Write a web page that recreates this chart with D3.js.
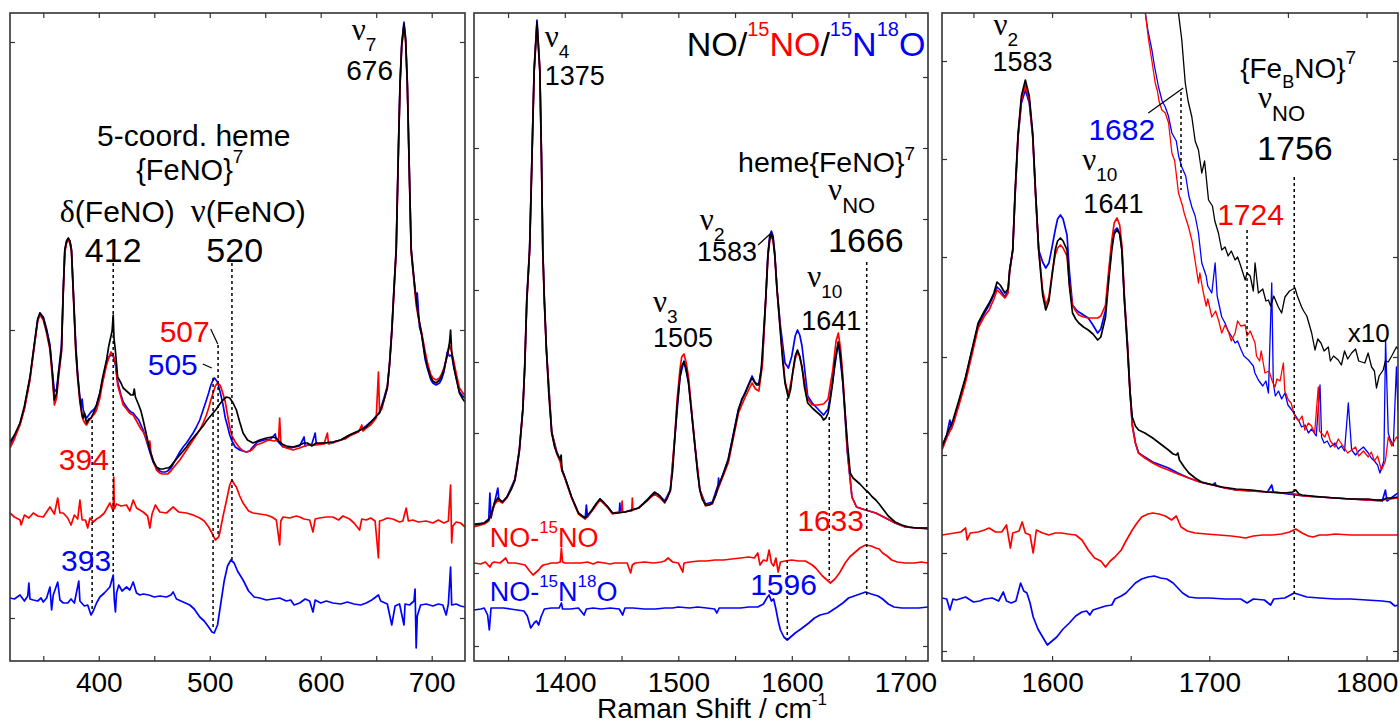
<!DOCTYPE html>
<html><head><meta charset="utf-8">
<script src="https://cdn.jsdelivr.net/npm/d3@7"></script>
<style>body{margin:0;background:#fff} text{font-family:"Liberation Sans",Arial,sans-serif}</style>
</head><body><svg id="c" width="1400" height="724"></svg>
<script>
// ---------- DATA (Raman shift cm-1, intensity a.u.) ----------
const p1XTicks = [400,500,600,700];
const p2XTicks = [1400,1500,1600,1700];
const p3XTicks = [1600,1700,1800];
const p1YTicks = [43,331,619];
const p2YTicks = [15,88,158,228,299,371,442,513,584];
const p3YTicks = [10,108,206,304,404,502,600];

const p1Black = [[320,219],[324,226],[329,238],[333,255],[338,284],[342,318],[345,342],[347,348],[350,343],[353,330],[356,314],[358,290],[360,261],[362,268],[364,290],[366.4,311],[368,370],[369.4,411],[371,420],[372.5,423],[374,420],[375.4,411],[377,370],[379.3,311],[381,285],[383,261],[385,246],[386,243],[387,248],[389,238],[391,242],[393,243],[396,250],[398,256],[401,268],[403,281],[405,291],[407,301],[409,315],[411,325],[412,330],[413,346],[413.7,323],[415,310],[417,284],[420,278],[422,273],[425,270],[427,268],[429,266],[431,266],[432,272],[433,264],[436,256],[438,250],[440,241],[443,226],[446,211],[449,200],[452,194],[455,192],[458,192],[461,193],[463,193],[465,195],[467,198],[470,202],[473,206],[476,210],[479,214],[482,219],[485,223],[488,227],[491,231],[494,235],[497,240],[500,244],[503,248],[506,252],[509,257],[512,261],[515,264],[518,263],[521,258],[524,251],[527,239],[530,228],[534,221],[539,218],[545,221],[551,223],[556,224],[560,223],[563,219],[565,217],[569,215],[575,214],[581,216],[585,218],[588,218],[592,215],[596,218],[603,218],[611,219],[618,221],[626,226],[634,230],[641,234],[647,241],[653,248],[657,261],[660,273],[662,296],[664,328],[666,371],[668,411],[670,511],[671.5,578],[673,616],[675,637],[676.5,621],[678,578],[680,481],[681.5,411],[683,393],[686,361],[688,345],[691,326],[694,305],[696,295],[699,284],[701,280],[704,278],[707,281],[709,285],[711,291],[714,306],[716,318],[717,331],[718,309],[720,294],[722,283],[725,268],[728,262],[730,259]];
const p1Red = [[320,213],[324,222],[329,236],[333,252],[338,281],[342,315],[345,340],[347,346],[350,341],[353,328],[356,311],[358,286],[360,256],[362,263],[364,286],[366.4,309],[368,368],[369.4,409],[371,418],[372.5,421],[374,418],[375.4,409],[377,368],[379.3,309],[381,282],[383,259],[385,244],[386,241],[388,237],[389,236],[391,240],[393,243],[396,247],[398,251],[401,263],[403,276],[405,286],[407,296],[409,303],[411,309],[413,306],[415,298],[417,276],[420,264],[422,256],[425,252],[427,249],[429,247],[431,246],[433,242],[436,236],[438,232],[440,229],[443,222],[445,214],[446,220],[447,208],[449,201],[452,191],[455,188],[457,187],[460,187],[462,187],[465,190],[467,193],[470,197],[473,201],[476,206],[479,211],[482,216],[485,221],[488,226],[491,231],[494,238],[497,246],[499,253],[501,261],[503,268],[505,275],[507,278],[509,276],[510,274],[512,267],[514,259],[516,246],[518,234],[520,225],[523,219],[527,213],[530,210],[533,209],[536,210],[538,211],[542,216],[547,218],[553,221],[558,220],[562,221],[563,243],[564,219],[566,215],[569,213],[575,211],[581,213],[588,216],[596,216],[603,217],[606,228],[607,217],[611,218],[618,221],[622,222],[626,225],[630,227],[634,229],[637,236],[638,230],[641,233],[645,236],[650,243],[652,289],[653,249],[655,252],[657,261],[660,273],[662,296],[664,328],[666,369],[668,409],[670,509],[671.5,576],[673,614],[675,635],[676.5,619],[678,576],[680,479],[681.5,409],[683,391],[686,356],[688,343],[691,328],[694,310],[696,299],[699,287],[701,283],[704,281],[707,283],[709,287],[711,293],[714,305],[716,316],[718,309],[720,299],[722,288],[725,273],[728,268],[730,266]];
const p1Blue = [[320,216],[324,224],[329,237],[333,253],[338,283],[342,317],[345,342],[347,348],[350,344],[353,332],[356,316],[358,292],[360,269],[362,272],[364,292],[366.4,316],[368,372],[369.4,411],[371,420],[372.5,422],[374,420],[375.4,411],[377,372],[379.3,316],[381,287],[383,263],[384,255],[385,262],[386,251],[388,245],[389,243],[391,246],[393,249],[396,252],[398,256],[401,268],[403,278],[405,289],[407,299],[409,304],[411,306],[413,305],[415,296],[417,279],[420,266],[422,259],[425,254],[427,251],[429,249],[431,248],[433,245],[436,241],[438,236],[440,231],[443,220],[446,209],[449,199],[452,193],[455,190],[457,189],[460,189],[462,190],[465,193],[467,197],[470,203],[473,209],[476,214],[479,218],[482,223],[485,228],[488,234],[491,241],[494,251],[497,261],[499,268],[501,276],[503,281],[504,283],[505,282],[507,279],[510,266],[512,256],[514,243],[516,235],[518,226],[520,220],[523,214],[527,211],[530,210],[533,209],[536,210],[538,213],[543,219],[549,221],[555,222],[559,227],[560,221],[566,214],[573,213],[581,215],[585,224],[586,215],[592,217],[595,228],[596,217],[603,218],[611,219],[618,221],[626,226],[630,228],[634,230],[641,235],[647,241],[653,249],[657,263],[660,275],[662,298],[664,331],[666,373],[668,413],[670,513],[671.5,580],[673,618],[675,639],[676.5,623],[678,580],[680,483],[681.5,413],[683,395],[685,371],[686.3,362],[687,368],[689,334],[691,326],[694,302],[696,293],[699,282],[701,278],[704,276],[707,278],[709,282],[711,289],[714,309],[716,305],[718,306],[720,293],[722,284],[725,269],[728,265],[730,263]];
const p1DiffRed = [[320,148],[324,144],[329,141],[330,136],[333,146],[337,143],[341,148],[345,145],[350,144],[353,149],[356,154],[360,147],[363,163],[365,148],[368,148],[372,143],[375,136],[378,146],[381,142],[383,161],[385,141],[388,141],[390,133],[392,143],[395,139],[398,142],[401,144],[405,148],[410,158],[413,150],[413.5,184],[414,152],[416,157],[420,155],[425,156],[428,150],[431,161],[434,153],[437,151],[440,149],[444,145],[446,133],[448,147],[451,156],[455,149],[461,148],[465,152],[467,154],[472,149],[479,148],[485,146],[491,143],[495,140],[499,134],[502,128],[505,121],[508,124],[509,128],[512,145],[515,160],[518,176],[520,181],[522,177],[524,174],[527,165],[530,158],[535,150],[539,148],[545,147],[551,146],[556,144],[560,141],[563,116],[564,140],[566,144],[572,143],[578,145],[581,144],[585,142],[590,141],[593,129],[595,142],[599,143],[605,144],[611,144],[616,141],[620,145],[626,142],[630,138],[635,131],[637,142],[641,141],[645,143],[649,140],[652,103],[653,140],[656,141],[660,143],[665,142],[671,139],[674,140],[677,153],[679,140],[683,141],[688,139],[695,140],[701,138],[706,141],[711,138],[715,140],[717,176],[718,118],[719,135],[722,139],[726,138],[730,134]];
const p1DiffBlue = [[320,63],[324,62],[329,66],[333,60],[336,65],[337,78],[338,62],[341,61],[345,60],[348,63],[350,59],[353,63],[356,74],[357.5,51],[359,66],[363,79],[365,61],[368,58],[372,58],[375,62],[378,58],[382,80],[383,60],[387,55],[390,56],[393,46],[395,50],[398,58],[401,64],[405,68],[410,74],[413,86],[414,61],[415,49],[416,68],[418,76],[421,70],[425,74],[428,71],[431,79],[434,68],[437,66],[440,67],[445,66],[450,64],[455,65],[461,64],[465,66],[467,69],[470,62],[476,59],[482,56],[486,52],[491,44],[495,40],[499,34],[502,29],[504,28],[507,36],[510,58],[513,80],[516,95],[519,101],[522,98],[525,90],[530,81],[535,70],[540,64],[545,63],[551,61],[557,62],[563,63],[569,60],[573,61],[576,56],[581,58],[586,62],[590,60],[593,49],[595,61],[600,58],[605,60],[611,58],[618,57],[624,59],[630,57],[636,56],[641,58],[646,61],[652,66],[654,60],[660,57],[664,36],[667,55],[671,57],[675,36],[676,57],[680,56],[684,60],[685,72],[686,13],[687,45],[690,56],[695,57],[701,55],[706,57],[710,56],[713,46],[715,57],[717,94],[718,56],[722,57],[726,55],[730,54]];

const p2Black = [[1320,136],[1325,137],[1329,138],[1333,141],[1336,150],[1338,158],[1341,163],[1343,161],[1345,159],[1349,164],[1353,172],[1356,181],[1358,194],[1360,211],[1363,251],[1364.7,294],[1366.5,360],[1369,411],[1371,500],[1373,590],[1375.5,639],[1378,590],[1379.5,500],[1380.6,411],[1382,360],[1383.8,311],[1386,265],[1388.5,228],[1391,214],[1393,208],[1396,201],[1396.8,206],[1397.5,191],[1400,184],[1403,174],[1406,164],[1409,156],[1412,148],[1415,145],[1418,143],[1421,147],[1424,151],[1428,158],[1431,162],[1434,159],[1438,154],[1442,148],[1447,148],[1453,149],[1459,151],[1465,153],[1469,157],[1473,161],[1476,165],[1479,168],[1482,167],[1484,164],[1488,159],[1490,162],[1493,171],[1495,190],[1497,224],[1499,256],[1501.5,284],[1503,295],[1505,299],[1507,292],[1509,278],[1512,245],[1515,211],[1517,188],[1519,171],[1521,162],[1524,156],[1527,156],[1530,158],[1533,166],[1535,174],[1540,188],[1544,201],[1548,223],[1553,251],[1556,262],[1559,268],[1562,276],[1565,283],[1567,279],[1569,276],[1571,276],[1573,290],[1575,325],[1577,361],[1579,406],[1580.5,422],[1582,428],[1583.5,422],[1585,406],[1587,371],[1590,328],[1592,300],[1594,278],[1597,263],[1599,272],[1601,290],[1603,305],[1605,311],[1607,305],[1609,294],[1611,275],[1614,258],[1618,253],[1621,250],[1623,248],[1626,245],[1628,241],[1630,243],[1632,248],[1634,262],[1636,278],[1638,300],[1641,319],[1643,305],[1645,278],[1647,248],[1649,218],[1651.5,188],[1654,183],[1656,181],[1660,177],[1665,171],[1668,168],[1671,164],[1674,161],[1677,157],[1681,151],[1685,145],[1691,139],[1697,136],[1703,134],[1710,133],[1720,133]];
const p2Red = [[1320,134],[1329,137],[1333,140],[1338,156],[1341,161],[1345,158],[1349,163],[1356,180],[1360,210],[1363,250],[1364.7,293],[1366.5,358],[1369,410],[1371,499],[1373,589],[1375.5,637],[1378,589],[1379.5,499],[1380.6,410],[1382,358],[1383.8,310],[1388.5,228],[1393,207],[1396,199],[1397.5,190],[1400,183],[1406,163],[1412,147],[1418,142],[1424,150],[1431,161],[1438,153],[1442,147],[1450,149],[1450.5,160],[1451,149],[1459,150],[1459.5,163],[1460,151],[1465,153],[1473,161],[1479,167],[1484,163],[1488,158],[1493,170],[1497,226],[1499,262],[1501.5,292],[1503,304],[1505,307],[1507,298],[1509,284],[1512,248],[1515,213],[1519,171],[1524,155],[1530,157],[1535,172],[1544,198],[1553,248],[1559,264],[1565,278],[1568,272],[1571,270],[1574,295],[1577,360],[1579,405],[1580.5,420],[1582,425],[1583.5,420],[1585,405],[1587,370],[1590,330],[1594,280],[1597,266],[1600,283],[1603,302],[1605,309],[1607,304],[1609,293],[1614,262],[1618,256],[1623,256],[1628,257],[1632,262],[1636,290],[1639,320],[1641,328],[1643,312],[1645,285],[1649,210],[1653,164],[1657,154],[1665,151],[1674,148],[1681,144],[1691,138],[1700,134],[1710,133],[1720,133]];
const p2Blue = [[1320,137],[1329,138],[1333,142],[1334,168],[1335,143],[1338,158],[1341,173],[1342,160],[1345,159],[1349,164],[1356,182],[1360,212],[1363,252],[1364.7,295],[1366.5,362],[1369,413],[1371,502],[1373,593],[1375.5,641],[1378,593],[1379.5,502],[1380.6,413],[1382,362],[1383.8,312],[1388.5,229],[1393,209],[1396,201],[1397.5,192],[1400,184],[1406,164],[1412,148],[1418,143],[1419,156],[1420,144],[1424,151],[1431,162],[1438,154],[1442,148],[1448,149],[1448.5,158],[1449,149],[1453,149],[1465,153],[1473,162],[1479,169],[1484,165],[1488,160],[1493,171],[1497,224],[1501.5,284],[1505,300],[1509,279],[1515,211],[1519,171],[1524,157],[1530,159],[1535,176],[1535.5,183],[1536,176],[1544,202],[1553,252],[1559,269],[1565,285],[1568,278],[1571,277],[1574,299],[1577,362],[1579,408],[1580.5,425],[1582,430],[1583.5,425],[1585,408],[1587,372],[1590,335],[1594,298],[1597,293],[1600,305],[1603,325],[1605,331],[1607,326],[1609,315],[1614,265],[1618,258],[1623,252],[1628,246],[1632,252],[1636,280],[1641,319],[1645,278],[1649,208],[1653,164],[1657,154],[1665,151],[1674,148],[1681,144],[1691,138],[1700,134],[1710,133],[1720,132]];
const p2DiffRed = [[1320,98],[1326,97],[1330,99],[1334,94],[1336,98],[1338,99],[1343,98],[1348,103],[1350,98],[1356,98],[1361,97],[1365,96],[1369,90],[1372,86],[1374,88],[1377,91],[1379,94],[1381,96],[1385,97],[1388,98],[1393,98],[1396,99],[1397,113],[1398,99],[1400,98],[1407,98],[1414,98],[1420,99],[1425,97],[1429,99],[1435,98],[1440,97],[1444,98],[1450,98],[1455,98],[1458,88],[1459.5,96],[1462,98],[1470,99],[1478,98],[1485,99],[1488,100],[1491,103],[1495,99],[1500,98],[1504,89],[1505,98],[1510,99],[1518,100],[1525,100],[1532,101],[1540,101],[1547,102],[1555,103],[1562,104],[1567,103],[1570,108],[1572,96],[1575,101],[1578,100],[1580,111],[1582,98],[1584,95],[1586,103],[1588,89],[1590,99],[1594,100],[1600,101],[1606,100],[1612,100],[1618,96],[1621,93],[1624,89],[1627,85],[1630,82],[1634,78],[1638,82],[1642,88],[1647,98],[1651,104],[1656,109],[1660,113],[1665,116],[1670,115],[1674,113],[1677,112],[1680,108],[1684,105],[1688,101],[1693,99],[1700,98],[1708,98],[1714,99],[1720,98]];
const p2DiffBlue = [[1320,51],[1326,52],[1329,53],[1332,46],[1333.5,31],[1335,53],[1340,53],[1346,53],[1352,52],[1358,51],[1364,50],[1367,45],[1370,33],[1373,38],[1375,40],[1377,36],[1379,44],[1382,52],[1388,53],[1395,53],[1397,58],[1398,52],[1405,52],[1412,53],[1417,46],[1419,52],[1425,53],[1432,52],[1440,53],[1448,52],[1451,46],[1453,53],[1460,53],[1470,52],[1480,52],[1488,53],[1495,53],[1500,54],[1510,53],[1517,54],[1525,53],[1532,52],[1534,48],[1536,53],[1545,53],[1555,53],[1562,54],[1570,54],[1575,57],[1578,63],[1580,66],[1582,60],[1584,62],[1586,52],[1588,40],[1590,31],[1593,24],[1596,21],[1599,24],[1603,28],[1608,32],[1615,38],[1620,43],[1625,46],[1632,48],[1640,54],[1645,58],[1650,63],[1655,65],[1660,67],[1665,69],[1670,67],[1676,65],[1680,62],[1685,57],[1690,54],[1697,53],[1705,53],[1712,53],[1720,54]];

const p3Black = [[1530,214],[1533,226],[1537,241],[1541,262],[1545,284],[1549,311],[1553,338],[1557,350],[1560,358],[1563,368],[1565,379],[1567,376],[1570,368],[1572,372],[1573,391],[1575,411],[1576.5,470],[1578.4,528],[1580.5,565],[1583,581],[1585.5,565],[1587.7,528],[1589.5,470],[1591.5,411],[1594,366],[1596,351],[1598,360],[1600,385],[1602,411],[1603.5,420],[1605.3,423],[1607,420],[1609.5,411],[1611,375],[1613,348],[1615,342],[1617,338],[1620,334],[1623,331],[1626,327],[1629,321],[1631,324],[1634,344],[1636,380],[1638,411],[1639.5,427],[1641.3,431],[1643,427],[1644.4,411],[1646,360],[1648,311],[1649.5,270],[1651,244],[1653,235],[1655,231],[1659,228],[1664,223],[1669,217],[1674,211],[1677,207],[1679,206],[1680,208],[1681,201],[1684,194],[1687,188],[1691,183],[1695,179],[1700,177],[1708,174],[1717,172],[1727,171],[1737,169],[1748,168],[1753,169],[1755,171],[1757,167],[1759,166],[1765,165],[1772,164],[1780,163],[1790,162],[1801,162],[1806,161],[1810,161],[1813,163],[1816,163],[1820,164]];
const p3Red = [[1530,211],[1533,223],[1537,236],[1541,257],[1545,279],[1549,306],[1553,333],[1557,345],[1560,351],[1563,362],[1565,371],[1567,368],[1570,363],[1572,368],[1573,388],[1575,411],[1576.5,467],[1578.4,525],[1580.5,561],[1583,576],[1585.5,561],[1587.7,525],[1589.5,467],[1591.5,411],[1594,371],[1596,356],[1598,364],[1600,388],[1602,406],[1603.5,413],[1605.3,416],[1607,413],[1609.5,405],[1611,378],[1613,356],[1615,350],[1617,346],[1620,344],[1623,343],[1626,343],[1629,343],[1631,345],[1634,356],[1636,390],[1638,421],[1639.5,438],[1641.3,443],[1643,436],[1644.4,416],[1646,365],[1648,316],[1649.5,272],[1651,236],[1653,218],[1655,208],[1659,203],[1664,198],[1669,194],[1674,191],[1680,187],[1687,183],[1694,179],[1702,176],[1710,173],[1717,171],[1727,170],[1737,169],[1748,168],[1755,167],[1760,165],[1770,164],[1780,163],[1790,162],[1800,161],[1810,161],[1815,162],[1820,163]];
const p3Blue = [[1530,215],[1533,226],[1535,241],[1536,232],[1537,239],[1541,260],[1545,283],[1549,310],[1553,336],[1557,348],[1560,356],[1563,366],[1565,374],[1567,371],[1570,364],[1572,370],[1573,390],[1575,411],[1576.5,466],[1578.4,524],[1580.5,558],[1583,571],[1585.5,558],[1587.7,524],[1589.5,466],[1591.5,411],[1594,399],[1596,393],[1598,398],[1600,414],[1602,431],[1603.5,442],[1605.3,446],[1607,442],[1609.5,426],[1611,390],[1613,356],[1615,352],[1617,349],[1620,346],[1623,343],[1626,336],[1629,328],[1631,332],[1634,351],[1636,385],[1638,416],[1639.5,430],[1641.3,433],[1643,428],[1644.4,411],[1646,362],[1648,316],[1649.5,272],[1651,236],[1653,218],[1655,208],[1659,204],[1664,199],[1669,196],[1674,193],[1680,188],[1687,183],[1694,179],[1702,176],[1703.7,178],[1704.5,175],[1710,173],[1717,171],[1727,170],[1737,169],[1739.7,176],[1740.7,169],[1750,167],[1760,165],[1770,164],[1780,163],[1790,162],[1800,161],[1810,160],[1812,171],[1813,160],[1820,168]];
const p3Black10 = [[1678,700],[1680.4,648],[1682.5,621],[1684.7,578],[1686.5,560],[1688.9,544],[1691,520],[1693.1,511],[1695.2,488],[1697,500],[1699.5,461],[1702,455],[1703.5,440],[1705.8,428],[1707.9,411],[1710,414],[1712,405],[1714,410],[1716.4,401],[1718,404],[1720,395],[1722.8,381],[1724,388],[1726,385],[1728,370],[1729.1,398],[1731.2,368],[1734,372],[1736,360],[1737.6,361],[1739,355],[1741,365],[1743.9,354],[1746,348],[1748.1,364],[1751,370],[1754.5,373],[1756,365],[1758.7,354],[1760,350],[1762,345],[1765.1,328],[1767.2,311],[1769,322],[1771,318],[1773,310],[1775.7,314],[1777,300],[1779,305],[1782,301],[1784,296],[1786,310],[1788,302],[1790.5,308],[1793,312],[1795,300],[1798.9,298],[1801,308],[1803.2,294],[1805,290],[1806.3,273],[1808,285],[1810.6,291],[1812,300],[1813.8,299],[1816,305],[1819,314],[1820,312]];
const p3Red10 = [[1658,680],[1659.3,648],[1661.4,621],[1663.5,600],[1665.6,578],[1667,570],[1668,560],[1669.8,551],[1672,548],[1674.1,538],[1676.2,508],[1678,500],[1680.4,468],[1683,455],[1684,448],[1686.8,434],[1689,420],[1691,400],[1693.1,378],[1694,388],[1696,370],[1698,355],[1699,362],[1701.6,344],[1704,350],[1706,340],[1707.9,328],[1710,336],[1712,330],[1714,320],[1716.4,328],[1718,340],[1720,335],[1722.8,336],[1724,325],[1726,330],[1729.1,318],[1730,305],[1732,300],[1733,310],[1735.4,288],[1738,290],[1740,280],[1741.8,274],[1743,282],[1745,280],[1747.1,298],[1748,270],[1750.3,261],[1752,258],[1754.5,244],[1757,240],[1759,245],[1760.8,231],[1763,238],[1765,235],[1767,228],[1769.3,274],[1770,230],[1773.5,224],[1775,230],[1777,220],[1779.9,214],[1782,222],[1785,215],[1788,208],[1790.5,211],[1793,214],[1795,205],[1798,210],[1801.1,204],[1803,209],[1805,200],[1807,205],[1809.5,191],[1812,200],[1813.8,224],[1816,215],[1819,224],[1820,222]];
const p3Blue10 = [[1657,680],[1659.3,648],[1661,630],[1663.5,611],[1665,596],[1667.7,574],[1670,560],[1672,554],[1674,545],[1676.2,528],[1679,520],[1680.5,505],[1682.5,494],[1685,485],[1687,465],[1688.9,454],[1691,445],[1693.1,428],[1695.2,398],[1698,385],[1699,375],[1701.6,368],[1703.7,398],[1705,365],[1707.9,344],[1710,338],[1712,330],[1714,325],[1716.4,318],[1718,320],[1720,312],[1722,305],[1724.9,301],[1728,295],[1729,288],[1731.2,281],[1734,275],[1736,280],[1737.6,268],[1739.7,378],[1740.7,278],[1742,265],[1744,270],[1746,262],[1748.1,268],[1750,256],[1752.4,251],[1755,245],[1757,240],[1758.7,234],[1761,236],[1763,228],[1765,232],[1768,225],[1770.4,276],[1771.4,224],[1773,218],[1775,220],[1777,214],[1779.9,218],[1782,212],[1784,215],[1786,210],[1788.4,258],[1790.5,211],[1793,206],[1795,210],[1798,214],[1801.1,208],[1803,203],[1805,200],[1807,196],[1808.5,188],[1811,200],[1812.1,321],[1813.8,228],[1815,222],[1817,215],[1819,294],[1820,250]];
const p3DiffRed = [[1530,126],[1534,127],[1538,128],[1542,129],[1545,133],[1546,121],[1548,128],[1553,129],[1557,131],[1560,133],[1564,129],[1568,129],[1571,136],[1573.5,113],[1575,128],[1577,129],[1579,130],[1581,139],[1583,128],[1586,126],[1588,108],[1590,131],[1594,128],[1598,126],[1602,128],[1606,128],[1610,127],[1615,126],[1619,121],[1623,111],[1627,103],[1631,100],[1634,94],[1637,100],[1640,104],[1644,111],[1647,120],[1651,131],[1654,138],[1657,144],[1661,147],[1664,148],[1668,147],[1672,145],[1676,141],[1679,145],[1682,134],[1686,130],[1691,128],[1698,127],[1706,126],[1714,125],[1719,124],[1723,123],[1728,125],[1734,126],[1740,126],[1746,127],[1751,129],[1755,132],[1759,128],[1763,125],[1766,124],[1770,126],[1775,126],[1780,127],[1790,126],[1800,126],[1810,126],[1820,126]];
const p3DiffBlue = [[1530,63],[1533,62],[1535,51],[1537,62],[1539,61],[1545,64],[1550,59],[1554,60],[1557,62],[1562,63],[1566,60],[1569,69],[1571,60],[1574,58],[1577,60],[1580,78],[1582,70],[1584,68],[1586,58],[1588,44],[1591,32],[1594,24],[1597,16],[1600,20],[1603,24],[1607,32],[1611,38],[1615,45],[1619,49],[1622,50],[1624,46],[1626,51],[1630,53],[1634,55],[1638,56],[1640,62],[1644,65],[1647,68],[1650,73],[1653,78],[1657,82],[1661,84],[1665,85],[1669,83],[1673,82],[1677,78],[1680,73],[1683,68],[1687,64],[1692,63],[1700,63],[1710,62],[1720,62],[1724,58],[1728,62],[1735,61],[1739,56],[1741,62],[1748,63],[1754,68],[1758,66],[1762,64],[1770,63],[1780,62],[1790,62],[1800,61],[1810,60],[1815,59],[1818,55],[1820,56]];

// annotation anchors (cm-1, intensity)
const p1Dotted = [[394,241,49],[413,398,89],[503,283,31],[507.5,316,124],[520,398,101]];
const p2Dotted = [[1596,263,21],[1633,244,81],[1666,399,66]];
const p3Dotted = [[1682,569,471],[1724,431,311],[1754,484,58]];
const p1Leaders = [[[500.9,332],[507.2,317]],[[493.7,297],[501.8,293]]];
const p2Leaders = [[[1570.3,416],[1580.9,427]]];
const p3Leaders = [[[1661.2,548],[1683.4,573]]];

const R="#ff0000", B="#0000ff", K="#000";
const NU = (sub, subSize) => [{t:"ν",f:"Liberation Serif",s:31},{t:sub,s:subSize||19,o:11}];
const p1Notes = [
 {v:628,I:621,parts:NU("7")},
 {v:623,I:581,parts:[{t:"676",s:28}]},
 {v:485.6,I:515,a:"middle",parts:[{t:"5-coord. heme",s:30}]},
 {v:482,I:481,a:"middle",parts:[{t:"{FeNO}",s:29},{t:"7",s:19,o:-17}]},
 {v:416.7,I:439,a:"middle",parts:[{t:"δ",f:"Liberation Serif",s:32},{t:"(FeNO)",s:30}]},
 {v:534.7,I:439,a:"middle",parts:[{t:"ν",f:"Liberation Serif",s:33},{t:"(FeNO)",s:30}]},
 {v:413,I:399,a:"middle",parts:[{t:"412",s:34}]},
 {v:522.5,I:399,a:"middle",parts:[{t:"520",s:34}]},
 {v:500,I:319,a:"end",c:R,parts:[{t:"507",s:30}]},
 {v:489.2,I:286,a:"end",c:B,parts:[{t:"505",s:30}]},
 {v:364,I:191,c:R,parts:[{t:"394",s:30}]},
 {v:366,I:90,c:B,parts:[{t:"393",s:30}]}
];
const p2Notes = [
 {v:1382.3,I:614,parts:NU("4")},
 {v:1382.3,I:576,parts:[{t:"1375",s:27}]},
 {v:1717.7,I:605,a:"end",parts:[{t:"NO/",s:34},{t:"15",s:20,o:-20,c:R},{t:"NO",s:34,c:R},{t:"/",s:34},{t:"15",s:20,o:-20,c:B},{t:"N",s:34,c:B},{t:"18",s:20,o:-20,c:B},{t:"O",s:34,c:B}]},
 {v:1552.7,I:489,parts:[{t:"heme{FeNO}",s:28.5},{t:"7",s:19,o:-12}]},
 {v:1632,I:461,parts:[{t:"ν",f:"Liberation Serif",s:31},{t:"NO",s:22,o:13}]},
 {v:1632,I:409,parts:[{t:"1666",s:34}]},
 {v:1519,I:431,parts:NU("2")},
 {v:1516.5,I:400,parts:[{t:"1583",s:27}]},
 {v:1477.7,I:349,parts:NU("3")},
 {v:1477.7,I:314,parts:[{t:"1505",s:27}]},
 {v:1613.6,I:374,parts:NU("10")},
 {v:1608.3,I:331,parts:[{t:"1641",s:27}]},
 {v:1604.8,I:130,c:R,parts:[{t:"1633",s:30}]},
 {v:1333.8,I:114,c:R,parts:[{t:"NO-",s:27},{t:"15",s:17,o:-14},{t:"NO",s:27}]},
 {v:1333.8,I:60,c:B,parts:[{t:"NO-",s:27},{t:"15",s:17,o:-14},{t:"N",s:27},{t:"18",s:17,o:-14},{t:"O",s:27}]},
 {v:1563.3,I:66,c:B,parts:[{t:"1596",s:30}]}
];
const p3Notes = [
 {v:1562.7,I:626,parts:NU("2")},
 {v:1562.1,I:590,parts:[{t:"1583",s:27}]},
 {v:1623.1,I:521,c:B,parts:[{t:"1682",s:30}]},
 {v:1619.2,I:491,parts:NU("10")},
 {v:1619.9,I:448,parts:[{t:"1641",s:27}]},
 {v:1719.6,I:583,parts:[{t:"{Fe",s:28},{t:"B",s:18,o:10},{t:"NO}",s:28},{t:"7",s:19,o:-14}]},
 {v:1731,I:553,parts:[{t:"ν",f:"Liberation Serif",s:31},{t:"NO",s:22,o:13}]},
 {v:1730.4,I:501,parts:[{t:"1756",s:34}]},
 {v:1705,I:436,c:R,parts:[{t:"1724",s:30}]},
 {v:1788.1,I:319,parts:[{t:"x10",s:26}]}
];

// ---------- DRAW ----------
const svg = d3.select("#c");
const TOP = 13, BOT = 661;
const panels = [
 {left:10,right:465,dom:[320,730],xt:p1XTicks,yt:p1YTicks,
  lines:[[p1Blue,B],[p1Red,R],[p1Black,K],[p1DiffRed,R],[p1DiffBlue,B]],
  dotted:p1Dotted,leaders:p1Leaders,notes:p1Notes},
 {left:474,right:928,dom:[1320,1720],xt:p2XTicks,yt:p2YTicks,
  lines:[[p2Blue,B],[p2Red,R],[p2Black,K],[p2DiffRed,R],[p2DiffBlue,B]],
  dotted:p2Dotted,leaders:p2Leaders,notes:p2Notes},
 {left:942,right:1398,dom:[1530,1820],xt:p3XTicks,yt:p3YTicks,
  lines:[[p3Blue10,B,1.3],[p3Red10,R,1.3],[p3Black10,K,1.3],[p3Blue,B],[p3Red,R],[p3Black,K],[p3DiffRed,R],[p3DiffBlue,B]],
  dotted:p3Dotted,leaders:p3Leaders,notes:p3Notes}
];

panels.forEach((p,i)=>{
  const x = d3.scaleLinear().domain(p.dom).range([p.left,p.right]);
  const y = d3.scaleLinear().domain([0,BOT-TOP]).range([BOT,TOP]);
  const g = svg.append("g");
  const cid = "clip"+i;
  svg.append("clipPath").attr("id",cid).append("rect")
    .attr("x",p.left).attr("y",TOP).attr("width",p.right-p.left).attr("height",BOT-TOP);
  const minor = d3.range(Math.ceil(p.dom[0]/50)*50, p.dom[1]+0.1, 50);
  const ax = [
    [d3.axisBottom(x).tickValues(minor),`translate(0,${BOT})`],
    [d3.axisTop(x).tickValues(minor),`translate(0,${TOP})`],
    [d3.axisLeft(y).tickValues(p.yt),`translate(${p.left},0)`],
    [d3.axisRight(y).tickValues(p.yt),`translate(${p.right},0)`]
  ];
  ax.forEach(([a,t])=>{
    const ga = g.append("g").attr("transform",t).call(a.tickSize(-5).tickFormat(""));
    ga.select(".domain").remove();
    ga.selectAll("line").attr("stroke","#333").attr("stroke-width",1.2);
  });
  const lab = g.append("g").attr("transform",`translate(0,${BOT})`)
    .call(d3.axisBottom(x).tickValues(p.xt).tickSize(0).tickPadding(11).tickFormat(d3.format("d")));
  lab.select(".domain").remove();
  lab.selectAll("text").attr("font-size",28).attr("fill","#000")
    .attr("font-family","Liberation Sans, Arial, sans-serif");

  const line = d3.line().x(d=>x(d[0])).y(d=>y(d[1]));
  const lg = g.append("g").attr("clip-path",`url(#${cid})`);
  p.lines.forEach(([data,col,w])=>{
    lg.append("path").attr("d",line(data)).attr("fill","none")
      .attr("stroke",col).attr("stroke-width",w||1.7).attr("stroke-linejoin","round");
  });
  p.dotted.forEach(([v,a,b])=>{
    g.append("line").attr("x1",x(v)).attr("x2",x(v)).attr("y1",y(a)).attr("y2",y(b))
      .attr("stroke","#000").attr("stroke-width",1.5).attr("stroke-dasharray","3,3");
  });
  p.leaders.forEach(([a,b])=>{
    g.append("line").attr("x1",x(a[0])).attr("y1",y(a[1])).attr("x2",x(b[0])).attr("y2",y(b[1]))
      .attr("stroke","#000").attr("stroke-width",1.2);
  });
  p.notes.forEach(n=>{
    const t = g.append("text").attr("x",x(n.v)).attr("y",y(n.I))
      .attr("text-anchor",n.a||"start").attr("fill",n.c||"#000");
    let prev = 0;
    n.parts.forEach(pt=>{
      const o = pt.o||0;
      const ts = t.append("tspan").text(pt.t).attr("font-size",pt.s||28).attr("dy",o-prev);
      if(pt.f) ts.attr("font-family",pt.f);
      if(pt.c) ts.attr("fill",pt.c);
      prev = o;
    });
  });
  g.append("rect").attr("x",p.left).attr("y",TOP).attr("width",p.right-p.left).attr("height",BOT-TOP)
    .attr("fill","none").attr("stroke","#333").attr("stroke-width",1.6);
});

const xl = svg.append("text").attr("x",712).attr("y",718).attr("text-anchor","middle").attr("fill","#000");
xl.append("tspan").text("Raman Shift / cm").attr("font-size",28);
xl.append("tspan").text("-1").attr("font-size",17).attr("dy",-13);
</script></body></html>
